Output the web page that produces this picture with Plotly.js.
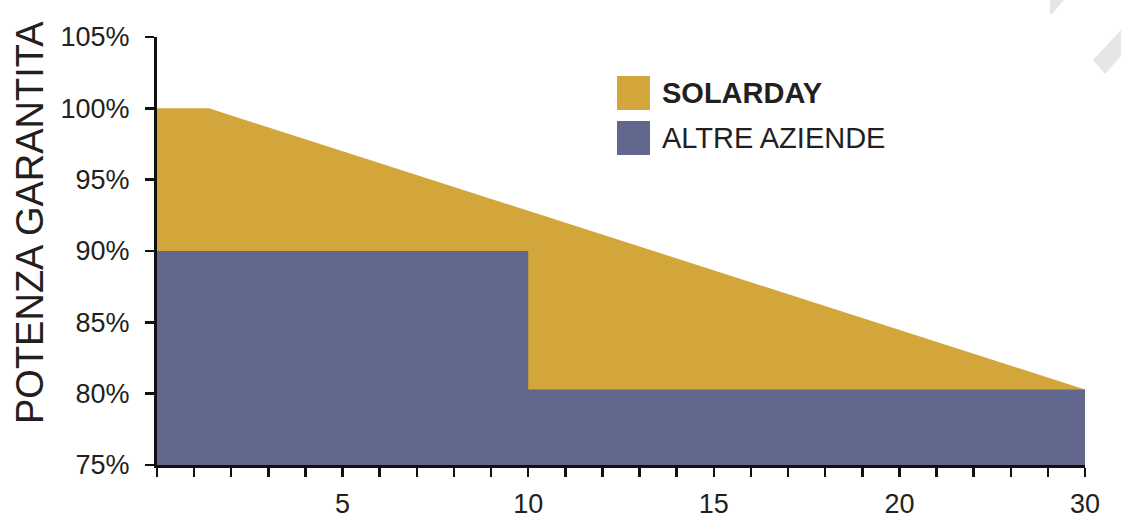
<!DOCTYPE html>
<html>
<head>
<meta charset="utf-8">
<script src="https://cdn.plot.ly/plotly-3.0.1.min.js"></script>
<style>
  html, body { margin: 0; padding: 0; background: #ffffff; }
  #chart { width: 1121px; height: 523px; }
</style>
</head>
<body>
<div id="chart"></div>
<script>
// ---- data (x positions are axis units; label "30" sits at position 25) ----
const solarX = [0, 1.4, 25];
const solarY = [100, 100, 80.3];
const altreX = [0, 10, 10, 25];
const altreY = [90, 90, 80.3, 80.3];

const seriesNames = ["SOLARDAY", "ALTRE AZIENDE"];
const seriesColors = ["#D3A63B", "#62678E"];

const xTickVals = [0,1,2,3,4,5,6,7,8,9,10,11,12,13,14,15,16,17,18,19,20,21,22,23,24,25];
const xTickText = ["","","","","","5","","","","","10","","","","","15","","","","","20","","","","","30"];
const yTickVals = [75, 80, 85, 90, 95, 100, 105];
const yTickText = ["75%", "80%", "85%", "90%", "95%", "100%", "105%"];
const yTitle = "POTENZA GARANTITA";

// ---- layout helpers (pixel -> paper) ----
const W = 1121, H = 523;
const M = { l: 157, r: 36, t: 37, b: 58 };
const PW = W - M.l - M.r, PH = H - M.t - M.b;
const px = x => (x - M.l) / PW;
const py = y => (H - M.b - y) / PH;

const textColor = "#231f20";
const fontFam = "Liberation Sans, Arial, sans-serif";

const traces = [
  {
    x: solarX, y: solarY, type: "scatter", mode: "lines",
    fill: "tozeroy", fillcolor: seriesColors[0],
    line: { width: 0, color: seriesColors[0] },
    name: seriesNames[0], showlegend: false, hoverinfo: "skip"
  },
  {
    x: altreX, y: altreY, type: "scatter", mode: "lines",
    fill: "tozeroy", fillcolor: seriesColors[1],
    line: { width: 0, color: seriesColors[1] },
    name: seriesNames[1], showlegend: false, hoverinfo: "skip"
  }
];

const layout = {
  width: W, height: H,
  margin: M,
  paper_bgcolor: "#ffffff",
  plot_bgcolor: "rgba(0,0,0,0)",
  font: { family: fontFam, color: textColor },
  showlegend: false,
  xaxis: {
    range: [0, 25], fixedrange: true,
    tickmode: "array", tickvals: xTickVals, ticktext: xTickText,
    ticks: "outside", ticklen: 9, tickwidth: 2.5, tickcolor: "#111",
    showline: true, linecolor: "#111", linewidth: 3,
    showgrid: false, zeroline: false,
    tickfont: { size: 27, color: textColor, family: fontFam },
    ticklabelstandoff: 4
  },
  yaxis: {
    range: [75, 105], fixedrange: true,
    tickmode: "array", tickvals: yTickVals, ticktext: yTickText,
    ticks: "outside", ticklen: 9, tickwidth: 2.5, tickcolor: "#111",
    showline: true, linecolor: "#111", linewidth: 3,
    showgrid: false, zeroline: false,
    tickfont: { size: 27, color: textColor, family: fontFam },
    ticklabelstandoff: 10
  },
  shapes: [
    { type: "rect", xref: "paper", yref: "paper", x0: px(617), x1: px(650), y0: py(110), y1: py(76),
      fillcolor: seriesColors[0], line: { width: 0 } },
    { type: "rect", xref: "paper", yref: "paper", x0: px(617), x1: px(650), y0: py(155), y1: py(121),
      fillcolor: seriesColors[1], line: { width: 0 } },
    // faint watermark stripes, top right
    { type: "path", xref: "paper", yref: "paper", layer: "below",
      path: `M ${px(1093)} ${py(60)} L ${px(1121)} ${py(30)} L ${px(1121)} ${py(56)} L ${px(1105)} ${py(74)} Z`,
      fillcolor: "#e6e6e6", line: { width: 0 } },
    { type: "path", xref: "paper", yref: "paper", layer: "below",
      path: `M ${px(1050)} ${py(0)} L ${px(1064)} ${py(0)} L ${px(1052)} ${py(14)} L ${px(1050)} ${py(14)} Z`,
      fillcolor: "#e6e6e6", line: { width: 0 } }
  ],
  annotations: [
    { xref: "paper", yref: "paper", x: px(660), y: py(93), xanchor: "left", yanchor: "middle",
      text: "<b>" + seriesNames[0] + "</b>", showarrow: false,
      font: { size: 29, color: textColor, family: fontFam } },
    { xref: "paper", yref: "paper", x: px(660), y: py(138), xanchor: "left", yanchor: "middle",
      text: seriesNames[1], showarrow: false,
      font: { size: 29, color: textColor, family: fontFam } },
    { xref: "paper", yref: "paper", x: px(30), y: py(223), xanchor: "center", yanchor: "middle",
      text: yTitle, textangle: -90, showarrow: false,
      font: { size: 38, color: textColor, family: fontFam } }
  ]
};

Plotly.newPlot("chart", traces, layout, { displayModeBar: false, staticPlot: true });
</script>
</body>
</html>
